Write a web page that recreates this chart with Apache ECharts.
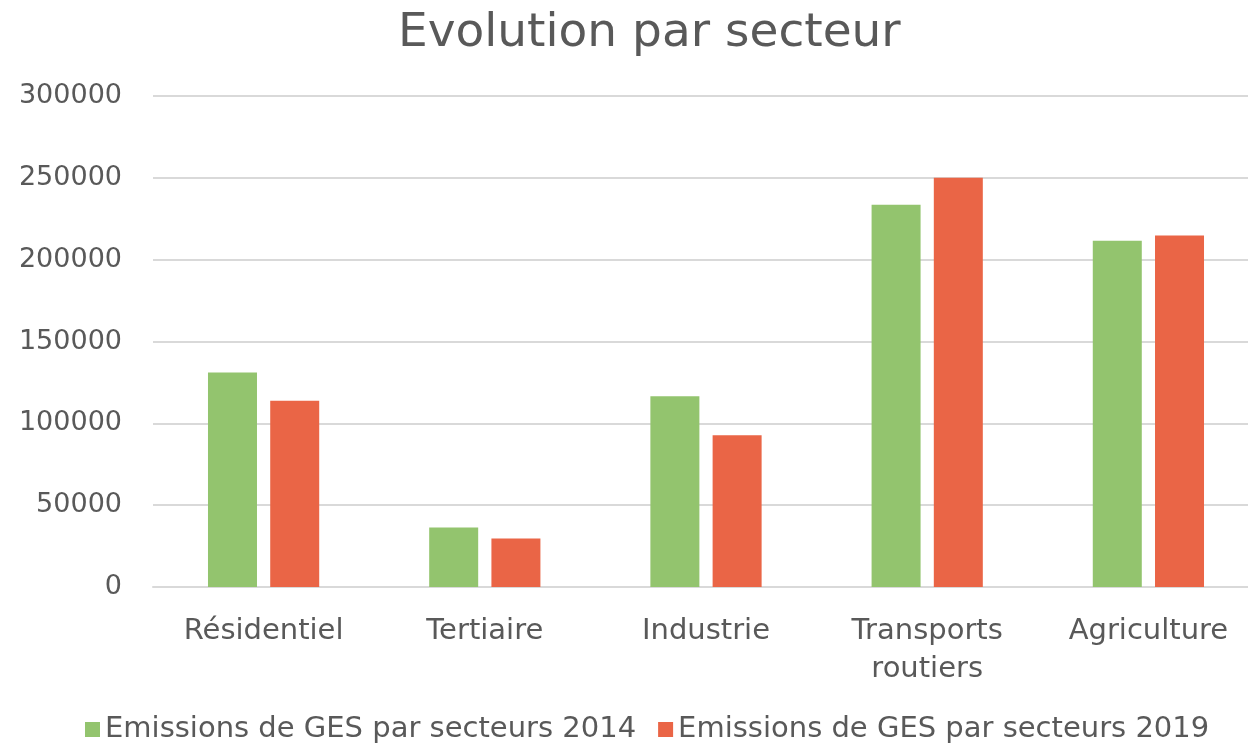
<!DOCTYPE html>
<html>
<head>
<meta charset="utf-8">
<script src="https://cdn.jsdelivr.net/npm/echarts@6/dist/echarts.min.js"></script>
<style>
  html, body { margin: 0; padding: 0; background: #fff; }
  #chart { width: 1248px; height: 746px; }
</style>
</head>
<body>
<div id="chart"></div>
<script>
const categories = ["Résidentiel", "Tertiaire", "Industrie", "Transports\nroutiers", "Agriculture"];
const emissions2014 = [131000, 36400, 116500, 233500, 211600];
const emissions2019 = [113800, 29700, 92700, 250000, 214800];
const seriesNames = ["Emissions de GES par secteurs 2014", "Emissions de GES par secteurs 2019"];
const textColor = "#595959";
const fontFamily = "'DejaVu Sans', sans-serif";

const chart = echarts.init(document.getElementById("chart"));
chart.setOption({
  animation: false,
  textStyle: { fontFamily: fontFamily, color: textColor },
  title: {
    text: "Evolution par secteur",
    left: 393,
    top: 5,
    textStyle: { fontSize: 47, fontWeight: "normal", color: textColor, fontFamily: fontFamily },
  },
  legend: {
    top: 710,
    left: 80,
    itemWidth: 15,
    itemHeight: 15,
    itemGap: 22,
    icon: "rect",
    textStyle: { fontSize: 29, color: textColor, fontFamily: fontFamily },
    data: seriesNames,
  },
  grid: {
    left: 153,
    width: 1106,
    top: 96,
    bottom: 159,
    containLabel: false,
    outerBoundsMode: "none",
  },
  xAxis: {
    type: "category",
    data: categories,
    axisLine: { lineStyle: { color: "#d9d9d9", width: 2 } },
    axisTick: { show: false },
    axisLabel: { fontSize: 29, color: textColor, lineHeight: 38, margin: 25, fontFamily: fontFamily },
  },
  yAxis: {
    type: "value",
    min: 0,
    max: 300000,
    interval: 50000,
    axisLine: { show: false },
    axisTick: { show: false },
    splitLine: { lineStyle: { color: "#d9d9d9", width: 2 } },
    axisLabel: {
      fontSize: 27,
      color: textColor,
      margin: 31,
      fontFamily: fontFamily,
      formatter: (v) => String(v),
    },
  },
  series: [
    {
      name: seriesNames[0],
      type: "bar",
      data: emissions2014,
      barWidth: 49,
      barGap: "27%",
      itemStyle: { color: "#93c46e" },
    },
    {
      name: seriesNames[1],
      type: "bar",
      data: emissions2019,
      barWidth: 49,
      itemStyle: { color: "#ea6546" },
    },
  ],
});
</script>
</body>
</html>
